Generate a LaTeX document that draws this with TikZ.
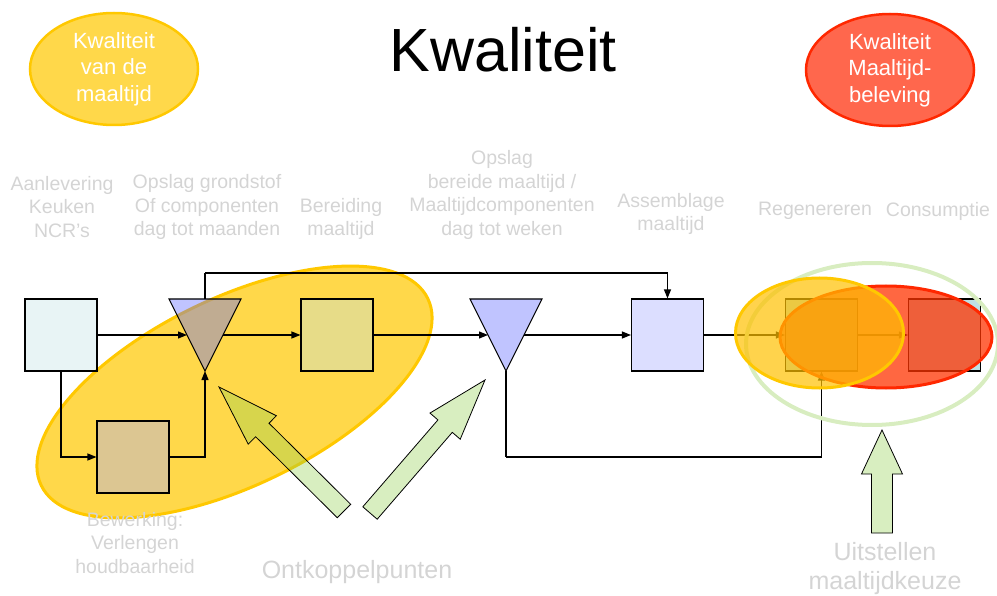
\documentclass[tikz,border=0pt]{standalone}
\usepackage{fontspec}
\setmainfont{Liberation Sans}
\usetikzlibrary{arrows.meta,calc,shapes.geometric}

\definecolor{lbl}{RGB}{212,212,212}
\definecolor{boxcyan}{RGB}{197,228,230}
\definecolor{boxcyanR}{RGB}{190,224,228}
\definecolor{boxlav}{RGB}{168,172,255}
\definecolor{tri}{RGB}{98,107,255}
\definecolor{goldfill}{RGB}{255,216,74}
\definecolor{goldline}{RGB}{255,200,0}
\definecolor{amber}{RGB}{255,192,0}
\definecolor{redfill}{RGB}{255,51,0}
\definecolor{redsoft}{RGB}{255,103,77}
\definecolor{redline}{RGB}{255,40,0}
\definecolor{ringgreen}{RGB}{216,237,192}
\definecolor{arrowgreen}{RGB}{146,208,80}

\tikzset{
  sq/.style={draw=black, line width=1.1pt, minimum size=72pt, inner sep=0pt},
  cbox/.style={sq, fill=boxcyan, fill opacity=0.4, draw opacity=1},
  lbox/.style={sq, fill=boxlav, fill opacity=0.4, draw opacity=1},
  rbox/.style={sq, fill=boxcyanR},
  tribox/.style={fill=tri, fill opacity=0.4, draw=black, line width=1.1pt, line join=miter},
  conn/.style={draw=black, line width=1.2pt, -{Triangle[length=9pt,width=7pt]}},
  plain/.style={draw=black, line width=1.2pt},
  blockarr/.style={fill=arrowgreen, fill opacity=0.36, draw=black, line width=0.8pt, line join=miter},
  steplabel/.style={text=lbl, align=center, inner sep=0pt, font=\fontsize{19.5}{23.5}\selectfont},
  biglabel/.style={text=lbl, align=center, inner sep=0pt, font=\fontsize{25}{30}\selectfont},
  quality/.style={ellipse, line width=2.5pt, minimum width=168pt, minimum height=112pt,
    inner sep=0pt, text=white, align=center, font=\fontsize{22}{26.5}\selectfont},
}

% shaft/head polygon: tail, tip, shaft half width, head half width, head length
\newcommand\blockarrow[5]{%
  \coordinate (ba-base) at ($(#2)!#5!(#1)$);
  \filldraw[blockarr]
    ($(#1)!#3!90:(#2)$) -- ($(ba-base)!#3!90:(#2)$) -- ($(ba-base)!#4!90:(#2)$)
    -- (#2)
    -- ($(ba-base)!#4!-90:(#2)$) -- ($(ba-base)!#3!-90:(#2)$) -- ($(#1)!#3!-90:(#2)$)
    -- cycle;
}

\begin{document}
\begin{tikzpicture}[x=1pt, y=-1pt]
\useasboundingbox (0,0) rectangle (997,596);

% decoupling zone around storage and processing
\filldraw[fill=goldfill, draw=goldline, line width=3pt, rotate around={25.8:(234.5,392)}]
  (234.5,392) ellipse [x radius=214.7pt, y radius=93.8pt];

% process steps
\node[cbox] (aanl)   at (61,335)  {};
\node[cbox] (bereid) at (337,335) {};
\node[lbox] (bewerk) at (133,457) {};
\node[lbox] (assem)  at (667.5,335) {};
\node[rbox] (regen)  at (821.5,335) {};
\node[rbox] (consu)  at (944.5,335) {};

% storage triangles
\coordinate (t1-l) at (169,299);
\coordinate (t1-r) at (241,299);
\coordinate (t1-b) at (205,371);
\coordinate (t1-n) at (205,299);
\coordinate (t1-w) at ($(t1-l)!0.5!(t1-b)$);
\coordinate (t1-e) at ($(t1-r)!0.5!(t1-b)$);
\filldraw[tribox] (t1-l) -- (t1-r) -- (t1-b) -- cycle;

\coordinate (t2-l) at (470,299);
\coordinate (t2-r) at (542,299);
\coordinate (t2-b) at (506,371);
\coordinate (t2-w) at ($(t2-l)!0.5!(t2-b)$);
\coordinate (t2-e) at ($(t2-r)!0.5!(t2-b)$);
\filldraw[tribox] (t2-l) -- (t2-r) -- (t2-b) -- cycle;

% flow
\draw[conn] (aanl.east) -- (t1-w);
\draw[conn] (t1-e) -- (bereid.west);
\draw[conn] (bereid.east) -- (t2-w);
\draw[conn] (t2-e) -- (assem.west);
\draw[conn] (assem.east) -- (regen.west);
\draw[conn] (regen.east) -- (consu.west);
\draw[conn] (aanl.south) |- (bewerk.west);
\draw[conn] (bewerk.east) -| (t1-b);
\coordinate (topbend) at (205,273);
\draw[plain] (t1-n) -- (topbend);
\draw[conn] (topbend) -| (assem.north);
\coordinate (lowbend) at (506,457);
\draw[plain] (t2-b) -- (lowbend);
\draw[conn] (lowbend) -| (regen.south);

% pointers to the decoupling points
\coordinate (pa-tail) at (344,511);
\coordinate (pa-tip)  at (219,387);
\coordinate (pb-tail) at (370,513);
\coordinate (pb-tip)  at (485,380);
\coordinate (pc-tail) at (882,533);
\coordinate (pc-tip)  at (882,430);
\blockarrow{pa-tail}{pa-tip}{9.5pt}{20pt}{61pt}
\blockarrow{pb-tail}{pb-tip}{9.5pt}{20pt}{61pt}
\blockarrow{pc-tail}{pc-tip}{10.5pt}{20.5pt}{44pt}

% end of the chain
\draw[draw=ringgreen, line width=4pt] (872,344) ellipse [x radius=126pt, y radius=81pt];
\filldraw[fill=redfill, fill opacity=0.745, draw=redline, line width=3pt]
  (886,337) ellipse [x radius=106pt, y radius=51pt];
\filldraw[fill=amber, fill opacity=0.7, draw=goldline, line width=3pt]
  (819.5,333) ellipse [x radius=84pt, y radius=55pt];

% headings
\node[anchor=base, font=\fontsize{61}{61}\selectfont] (title) at (503,72) {Kwaliteit};
\node[quality, fill=goldfill, draw=goldline] (qmeal) at (114,69) {Kwaliteit\\van de\\maaltijd};
\node[quality, fill=redsoft, draw=redline] (qexp) at (890,70) {Kwaliteit\\Maaltijd-\\beleving};

% step labels
\node[steplabel] (l-aanl)   at (62,207)  {Aanlevering\\Keuken\\NCR’s};
\node[steplabel] (l-opslag) at (207,207) {Opslag grondstof\\Of componenten\\dag tot maanden};
\node[steplabel] (l-bereid) at (341,219) {Bereiding\\maaltijd};
\node[steplabel] (l-opsl2)  at (502,195) {Opslag\\bereide maaltijd /\\Maaltijdcomponenten\\dag tot weken};
\node[steplabel] (l-assem)  at (671,214) {Assemblage\\maaltijd};
\node[steplabel] (l-regen)  at (815,211) {Regenereren};
\node[steplabel] (l-consu)  at (938,211) {Consumptie};
\node[steplabel] (l-bewerk) at (135,543) {Bewerking:\\Verlengen\\houdbaarheid};
\node[biglabel]  (l-ontk)   at (357,572) {Ontkoppelpunten};
\node[biglabel, font=\fontsize{25}{29}\selectfont] (l-uitst) at (885,569) {Uitstellen\\maaltijdkeuze};
\end{tikzpicture}
\end{document}
